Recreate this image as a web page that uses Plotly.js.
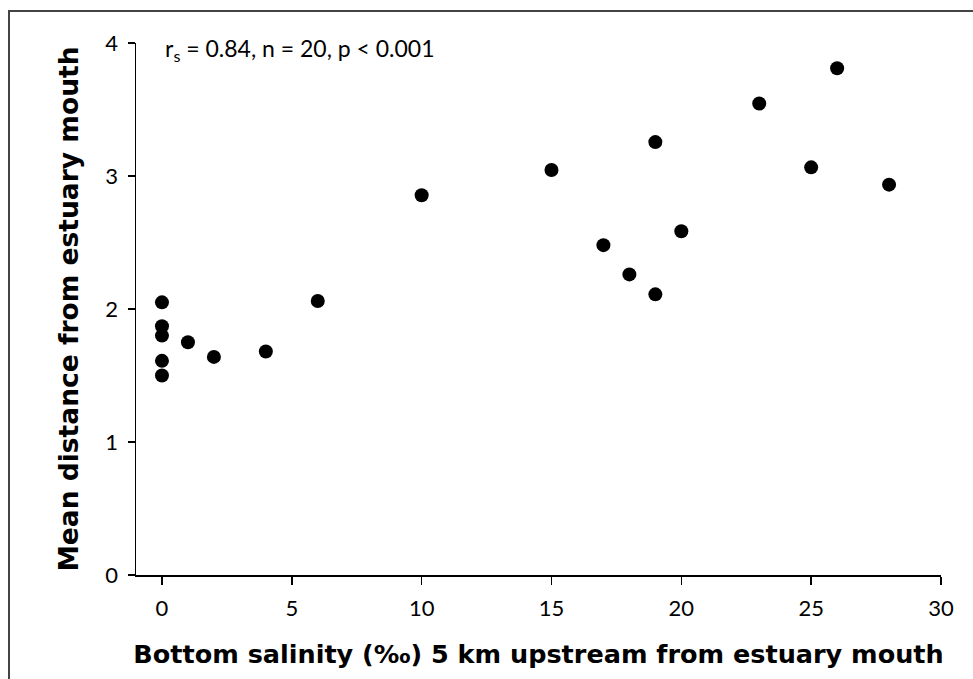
<!DOCTYPE html>
<html>
<head>
<meta charset="utf-8">
<script src="https://cdn.plot.ly/plotly-3.0.1.min.js"></script>
<style>
  html, body { margin: 0; padding: 0; background: #fff; }
  #wrap { position: relative; width: 973px; height: 679px; overflow: hidden; }
  #chart { position: absolute; left: 0; top: 0; width: 973px; height: 679px; }
  #frame { position: absolute; left: 8px; top: 10px; width: 1000px; height: 700px;
           border-left: 2px solid #444; border-top: 2px solid #444; pointer-events: none; }
</style>
</head>
<body>
<div id="wrap">
  <div id="chart"></div>
  <div id="frame"></div>
</div>
<script>
// Bottom salinity (‰) 5 km upstream from estuary mouth
const salinity = [0, 0, 0, 0, 0, 1, 2, 4, 6, 10, 15, 17, 18, 19, 19, 20, 23, 25, 26, 28];
// Mean distance from estuary mouth
const meanDistance = [2.05, 1.87, 1.80, 1.61, 1.50, 1.75, 1.64, 1.68, 2.06, 2.855, 3.045, 2.48, 2.26, 3.255, 2.11, 2.585, 3.545, 3.065, 3.81, 2.935];
const xTicks = [0, 5, 10, 15, 20, 25, 30];
const yTicks = [0, 1, 2, 3, 4];
const statsText = 'r<sub>s</sub> = 0.84, n = 20, p < 0.001';

const font = 'Lato, "Open Sans", "DejaVu Sans", sans-serif';
const titleFont = '"DejaVu Sans", Lato, sans-serif';

const trace = {
  x: salinity,
  y: meanDistance,
  type: 'scatter',
  mode: 'markers',
  marker: { color: '#000', size: 14, line: { width: 0 } },
  hoverinfo: 'x+y'
};

const layout = {
  width: 973,
  height: 679,
  paper_bgcolor: '#fff',
  plot_bgcolor: '#fff',
  showlegend: false,
  margin: { l: 136, r: 32, t: 43, b: 104 },
  font: { family: font, color: '#000', size: 22 },
  xaxis: {
    range: [-1, 30],
    tickvals: xTicks,
    ticktext: xTicks.map(String),
    ticks: 'outside',
    ticklen: 8,
    tickwidth: 1.5,
    tickcolor: '#000',
    showline: true,
    linecolor: '#000',
    linewidth: 1.5,
    showgrid: false,
    zeroline: false,
    ticklabelstandoff: 5,
    tickfont: { family: font, size: 22, color: '#000' },
    title: {
      text: 'Bottom salinity (‰) 5 km upstream from estuary mouth',
      font: { family: titleFont, size: 25.5, color: '#000', weight: 'bold' },
      standoff: 25
    }
  },
  yaxis: {
    range: [0, 4],
    tickvals: yTicks,
    ticktext: yTicks.map(String),
    ticks: 'outside',
    ticklen: 7,
    tickwidth: 1.5,
    tickcolor: '#000',
    showline: true,
    linecolor: '#000',
    linewidth: 1.5,
    showgrid: false,
    zeroline: false,
    ticklabelstandoff: 5,
    tickfont: { family: font, size: 22, color: '#000' },
    title: {
      text: 'Mean distance from estuary mouth',
      font: { family: titleFont, size: 26.5, color: '#000', weight: 'bold' },
      standoff: 19
    }
  },
  annotations: [{
    xref: 'paper', yref: 'paper',
    x: 0.033, y: 0.988,
    xanchor: 'left', yanchor: 'middle',
    text: statsText,
    showarrow: false,
    font: { family: font, size: 23, color: '#000' }
  }]
};

Plotly.newPlot('chart', [trace], layout, { displayModeBar: false, staticPlot: true });
</script>
</body>
</html>
